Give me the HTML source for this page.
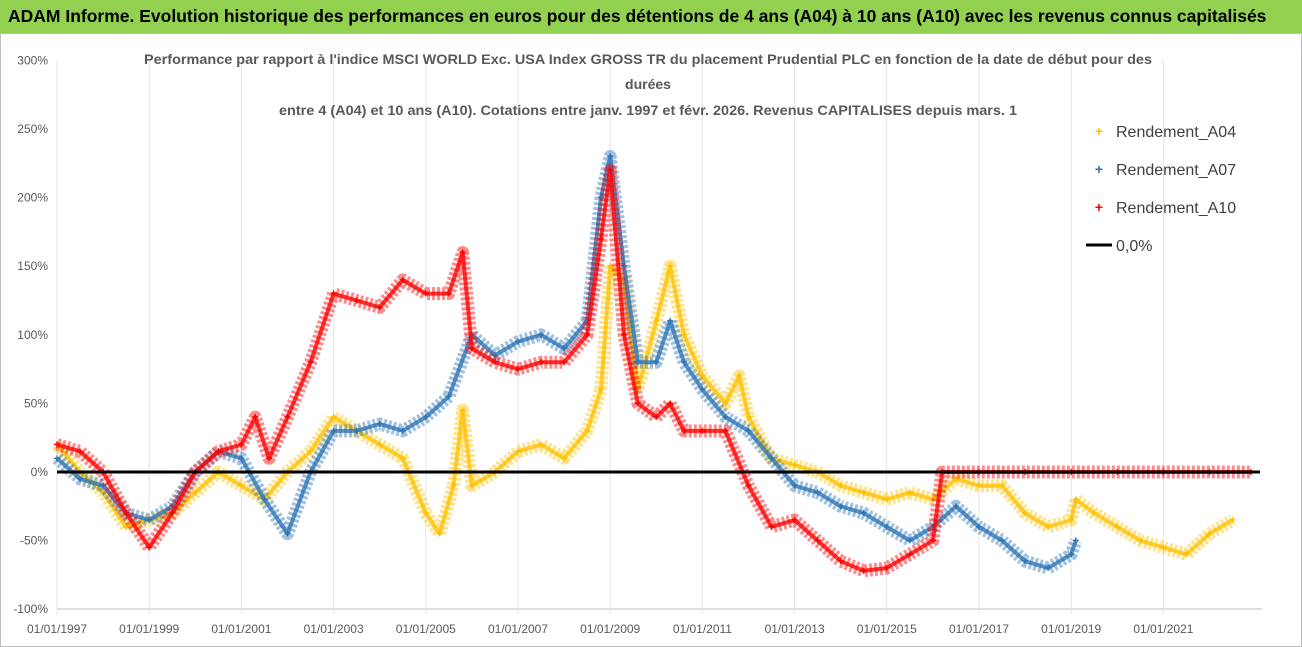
<!DOCTYPE html>
<html><head><meta charset="utf-8"><style>
body{margin:0;background:#fff;font-family:"Liberation Sans",sans-serif;}
#banner{position:absolute;left:0;top:0;width:1302px;height:33px;background:#92d050;font-weight:bold;font-size:17.5px;line-height:33px;padding-left:8px;box-sizing:border-box;white-space:nowrap;}
#frame{position:absolute;left:0;top:33px;width:1300px;height:612px;border:1px solid #bfbfbf;}
svg{position:absolute;left:0;top:0;}
</style></head><body>
<div id="banner">ADAM Informe. Evolution historique des performances en euros pour des détentions de 4 ans (A04) à 10 ans (A10) avec les revenus connus capitalisés</div>
<div id="frame"></div>
<svg id="chart" width="1302" height="647"></svg>
<script>
const yTicks=[300,250,200,150,100,50,0,-50,-100];
const xTickYears=[1997,1999,2001,2003,2005,2007,2009,2011,2013,2015,2017,2019,2021];
const a04Years=[1997,1997.5,1998,1998.5,1999,1999.5,2000,2000.5,2001,2001.5,2002,2002.5,2003,2003.5,2004,2004.5,2005,2005.3,2005.6,2005.8,2006,2006.5,2007,2007.5,2008,2008.5,2008.8,2009,2009.3,2009.6,2010,2010.3,2010.6,2011,2011.5,2011.8,2012,2012.5,2013,2013.5,2014,2014.5,2015,2015.5,2016,2016.5,2017,2017.5,2018,2018.5,2019,2019.1,2019.5,2020,2020.5,2021,2021.5,2022,2022.5];
const a04Vals=[20,0,-15,-40,-35,-30,-15,0,-10,-20,0,15,40,30,20,10,-30,-45,-10,45,-10,0,15,20,10,30,60,150,140,60,110,150,100,70,50,70,40,10,5,0,-10,-15,-20,-15,-20,-5,-10,-10,-30,-40,-35,-20,-30,-40,-50,-55,-60,-45,-35];
const a07Years=[1997,1997.5,1998,1998.5,1999,1999.5,2000,2000.5,2001,2001.5,2002,2002.5,2003,2003.5,2004,2004.5,2005,2005.5,2006,2006.5,2007,2007.5,2008,2008.5,2008.8,2009,2009.3,2009.6,2010,2010.3,2010.6,2011,2011.5,2012,2012.5,2013,2013.5,2014,2014.5,2015,2015.5,2016,2016.5,2017,2017.5,2018,2018.5,2019,2019.1];
const a07Vals=[10,-5,-10,-30,-35,-25,0,15,10,-20,-45,0,30,30,35,30,40,55,100,85,95,100,90,110,200,230,150,80,80,110,80,60,40,30,10,-10,-15,-25,-30,-40,-50,-40,-25,-40,-50,-65,-70,-60,-50];
const a10Years=[1997,1997.5,1998,1998.5,1999,1999.5,2000,2000.5,2001,2001.3,2001.6,2002,2002.5,2003,2003.5,2004,2004.5,2005,2005.5,2005.8,2006,2006.5,2007,2007.5,2008,2008.5,2008.8,2009,2009.3,2009.6,2010,2010.3,2010.6,2011,2011.5,2012,2012.5,2013,2013.5,2014,2014.5,2015,2015.5,2016,2016.2,2017,2018,2019,2020,2021,2022,2022.9];
const a10Vals=[20,15,0,-30,-55,-30,0,15,20,40,10,40,80,130,125,120,140,130,130,160,90,80,75,80,80,100,170,220,100,50,40,50,30,30,30,-10,-40,-35,-50,-65,-72,-70,-60,-50,0,0,0,0,0,0,0,0];
const NS='http://www.w3.org/2000/svg';
const svg=document.getElementById('chart');
const X=y=>57+(y-1997)*46.1;
const Y=v=>472-v*1.372;
function el(t,a){const e=document.createElementNS(NS,t);for(const k in a)e.setAttribute(k,a[k]);svg.appendChild(e);return e;}
const ax=el('line',{x1:57,y1:60,x2:57,y2:609,stroke:'#bfbfbf'});


const bx=el('line',{x1:57,y1:609,x2:1262,y2:609,stroke:'#bfbfbf'});


yTicks.forEach(v=>{const t=el('text',{x:48,y:Y(v)+4,'text-anchor':'end','font-size':12,fill:'#595959'});t.textContent=v+'%';

});
xTickYears.forEach(yr=>{const g=el('line',{x1:X(yr),y1:60,x2:X(yr),y2:614,stroke:'#e4e4e4'});


const t=el('text',{x:X(yr),y:633,'text-anchor':'middle','font-size':12,fill:'#595959'});t.textContent='01/01/'+yr;

});
function series(ys,vs,col,name){
 const pts=ys.map((y,i)=>X(y)+','+Y(vs[i])).join(' ');
 const p=el('polyline',{points:pts,fill:'none',stroke:col,'stroke-width':13,'stroke-opacity':0.45,'stroke-linejoin':'round','stroke-dasharray':'3 2'});
 
 
 const p2=el('polyline',{points:pts,fill:'none',stroke:col,'stroke-width':4,'stroke-opacity':0.8,'stroke-linejoin':'round'});
 
 
 ys.forEach((y,i)=>{const t=el('text',{x:X(y),y:Y(vs[i])+4,'text-anchor':'middle','font-size':12,fill:col,'font-weight':'bold'});t.textContent='+';
 
 });
}
series(a04Years,a04Vals,'#ffc000','a04');
series(a07Years,a07Vals,'#2e75b6','a07');
series(a10Years,a10Vals,'#ff0000','a10');
const z=el('line',{x1:57,y1:Y(0),x2:1260,y2:Y(0),stroke:'#000','stroke-width':3});


[['Performance par rapport à l\'indice MSCI WORLD Exc. USA Index GROSS TR  du placement Prudential PLC en fonction de la date de début pour des',64,1008],['durées',89,0],['entre 4 (A04) et 10 ans (A10). Cotations entre janv. 1997 et févr. 2026. Revenus CAPITALISES depuis mars. 1',115,738]].forEach(([s,y,w])=>{
 const a={x:648,y:y,'text-anchor':'middle','font-size':14,'font-weight':'bold',fill:'#595959'};
 if(w){a.textLength=w;a.lengthAdjust='spacingAndGlyphs';}
 const t=el('text',a);t.textContent=s;
 
 });
[['Rendement_A04','#ffc000',131],['Rendement_A07','#2e75b6',169],['Rendement_A10','#ff0000',207]].forEach(([s,c,y])=>{
 const m=el('text',{x:1099,y:y+5,'text-anchor':'middle','font-size':14,'font-weight':'bold',fill:c});m.textContent='+';
 
 
 const t=el('text',{x:1116,y:y+6,'font-size':16,fill:'#404040'});t.textContent=s;
 
 });
const ll=el('line',{x1:1086,y1:245,x2:1112,y2:245,stroke:'#000','stroke-width':3});


const lt=el('text',{x:1116,y:251,'font-size':16,fill:'#404040'});lt.textContent='0,0%';


</script>
</body></html>
